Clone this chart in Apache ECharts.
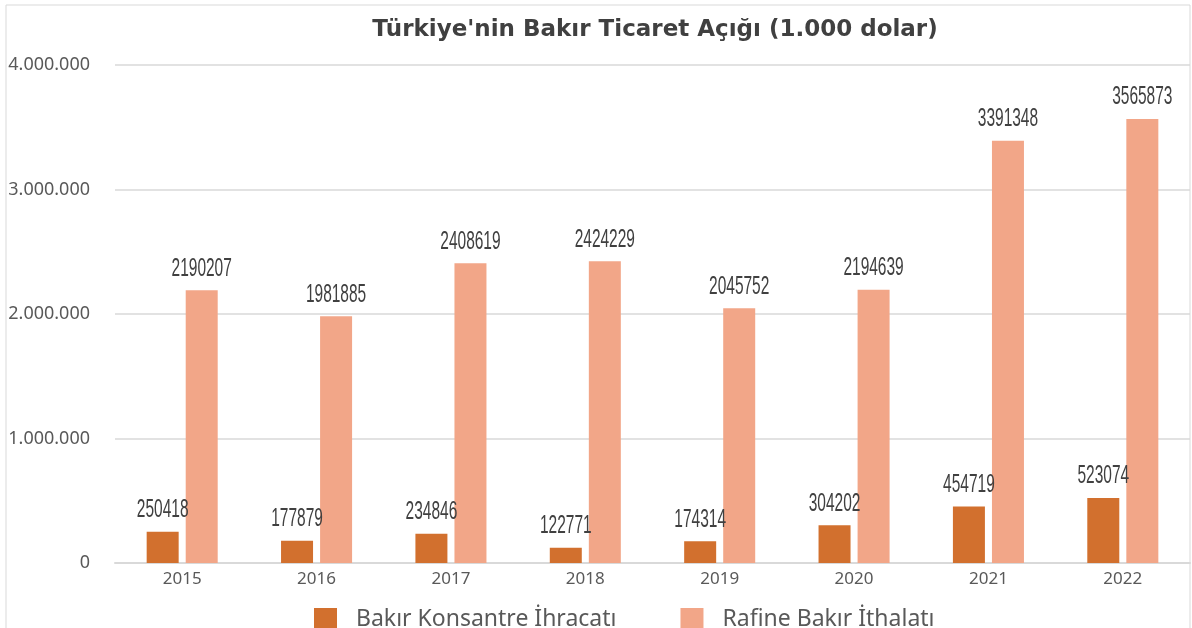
<!DOCTYPE html>
<html>
<head>
<meta charset="utf-8">
<script src="https://cdn.jsdelivr.net/npm/echarts@6/dist/echarts.min.js"></script>
<style>
    html, body { margin: 0; padding: 0; background: #fff; }
    #chart { width: 1192px; height: 628px; }
</style>
</head>
<body>
<div id="chart"></div>
<script>
var years = ['2015', '2016', '2017', '2018', '2019', '2020', '2021', '2022'];
var ihracat = [250418, 177879, 234846, 122771, 174314, 304202, 454719, 523074];
var ithalat = [2190207, 1981885, 2408619, 2424229, 2045752, 2194639, 3391348, 3565873];
var yTicks = [0, 1000000, 2000000, 3000000, 4000000];

// sayilari 1.000.000 seklinde yaz
function noktali(v) {
    return String(v).replace(/\B(?=(\d{3})+(?!\d))/g, '.');
}

// etiketler dar yazi tipiyle: custom seri, text'i yatayda sikistir
function etiketSerisi(values, offset) {
    return {
        type: 'custom',
        silent: true,
        z: 10,
        data: values.map(function(v, i) { return [i, v]; }),
        renderItem: function(params, api) {
            var p = api.coord([api.value(0), api.value(1)]);
            return {
                type: 'text',
                x: p[0] + offset,
                y: p[1] - 9,
                scaleX: 0.62,
                style: {
                    text: String(api.value(1)),
                    fill: '#404040',
                    fontSize: 25,
                    fontFamily: '"Liberation Sans", sans-serif',
                    align: 'center',
                    verticalAlign: 'bottom'
                }
            };
        }
    };
}

var option = {
    animation: false,
    backgroundColor: '#fff',
    title: {
        text: "Türkiye'nin Bakır Ticaret Açığı (1.000 dolar)",
        left: 650,
        textAlign: 'center',
        top: 14,
        textStyle: {
            color: '#404040',
            fontSize: 23,
            fontWeight: 'bold',
            fontFamily: '"DejaVu Sans", sans-serif'
        }
    },
    graphic: [
        {
            type: 'rect',
            shape: { x: 6, y: 5, width: 1184, height: 640 },
            style: { fill: 'none', stroke: '#d9d9d9', lineWidth: 1 },
            silent: true
        }
    ],
    legend: {
        top: 603,
        left: 309,
        icon: 'rect',
        itemWidth: 23,
        itemHeight: 23,
        itemGap: 64,
        textStyle: {
            color: '#595959',
            fontSize: 23,
            padding: [0, 0, 0, 14],
            fontFamily: '"Noto Sans", sans-serif'
        },
        data: ['Bakır Konsantre İhracatı', 'Rafine Bakır İthalatı']
    },
    grid: {
        left: 115,
        right: 2,
        top: 65,
        bottom: 65
    },
    xAxis: {
        type: 'category',
        data: years,
        axisTick: { show: false },
        axisLine: { lineStyle: { color: '#d9d9d9', width: 2 } },
        axisLabel: {
            color: '#595959',
            fontSize: 17,
            margin: 8,
            fontFamily: '"Noto Sans", sans-serif'
        }
    },
    yAxis: {
        type: 'value',
        min: yTicks[0],
        max: yTicks[yTicks.length - 1],
        interval: 1000000,
        axisLine: { show: false },
        axisTick: { show: false },
        splitLine: { lineStyle: { color: '#d9d9d9', width: 1.5 } },
        axisLabel: {
            color: '#595959',
            fontSize: 18,
            margin: 25,
            fontFamily: '"Noto Sans", sans-serif',
            formatter: noktali
        }
    },
    series: [
        {
            name: 'Bakır Konsantre İhracatı',
            type: 'bar',
            data: ihracat,
            barWidth: 32,
            barGap: '22%',
            itemStyle: { color: '#D2702E' }
        },
        {
            name: 'Rafine Bakır İthalatı',
            type: 'bar',
            data: ithalat,
            barWidth: 32,
            itemStyle: { color: '#F2A688' }
        },
        etiketSerisi(ihracat, -19.5),
        etiketSerisi(ithalat, 19.5)
    ]
};

var myChart = echarts.init(document.getElementById('chart'), null, { renderer: 'canvas' });
myChart.setOption(option);
</script>
</body>
</html>
